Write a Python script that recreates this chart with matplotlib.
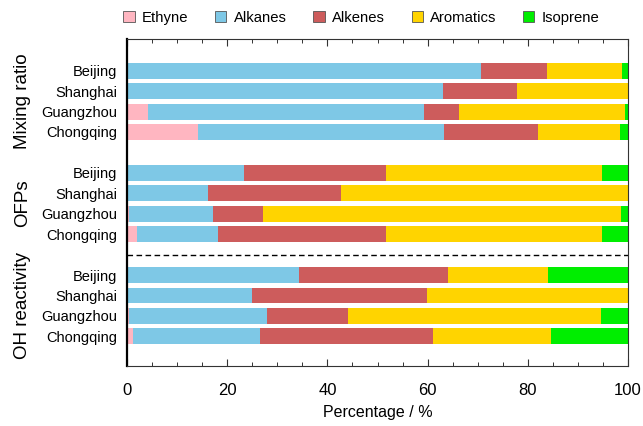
import matplotlib
matplotlib.use("Agg")
import matplotlib.pyplot as plt
from matplotlib.ticker import MultipleLocator
import numpy as np

plt.rcParams['font.family'] = ['Liberation Sans', 'DejaVu Sans']

cities = ["Beijing", "Shanghai", "Guangzhou", "Chongqing"]
groups = ["Mixing ratio", "OFPs", "OH reactivity"]
species = ["Ethyne", "Alkanes", "Alkenes", "Aromatics", "Isoprene"]
colors = ["#FFB6C1", "#7EC8E6", "#CD5C5C", "#FFD400", "#00EE00"]

# rows: Mixing ratio (4 cities), OFPs (4 cities), OH reactivity (4 cities)
ethyne    = [0.0, 0.0, 4.2, 14.2,   0.0, 0.0, 0.3, 1.9,    0.0, 0.0, 0.3, 1.2]
alkanes   = [70.6, 63.0, 55.1, 49.0, 23.3, 16.2, 16.8, 16.2, 34.4, 24.9, 27.7, 25.3]
alkenes   = [13.2, 14.8, 7.0, 18.9,  28.4, 26.6, 10.1, 33.6, 29.6, 35.0, 16.2, 34.5]
aromatics = [15.1, 22.2, 33.2, 16.4, 43.2, 57.2, 71.5, 43.1, 20.1, 40.1, 50.4, 23.7]
isoprene  = [1.1, 0.0, 0.5, 1.5,    5.1, 0.0, 1.3, 5.2,    15.9, 0.0, 5.4, 15.3]

series = [ethyne, alkanes, alkenes, aromatics, isoprene]

fig = plt.figure(figsize=(6.43, 4.26), dpi=100)
ax = fig.add_axes([127/643, 1-366/426, (628-127)/643, (366-39)/426])

ypos = []
for g in range(len(groups)):
    for c in range(len(cities)):
        ypos.append(g * (len(cities) + 1) + c)
ypos = np.array(ypos)

left = np.zeros(len(ypos))
for name, vals, col in zip(species, series, colors):
    vals = np.array(vals)
    ax.barh(ypos, vals, left=left, height=0.78, color=col, label=name, edgecolor='none')
    left += vals

ax.set_xlim(0, 100)
ax.set_ylim(14.45, -1.55)
ax.axhline(9, color='black', lw=1.0, ls=(0, (4, 2.5)))

ax.set_yticks(ypos)
ax.set_yticklabels(cities * len(groups), fontsize=10.5)
ax.tick_params(axis='y', length=0, pad=7)

ax.xaxis.set_major_locator(MultipleLocator(20))
ax.xaxis.set_minor_locator(MultipleLocator(5))
ax.tick_params(axis='x', which='both', direction='in', top=True, bottom=True,
               labelsize=12, pad=12, color='#333333')
ax.tick_params(axis='x', which='major', length=5, width=0.8)
ax.tick_params(axis='x', which='minor', length=3, width=0.7)
ax.set_xlabel("Percentage / %", fontsize=11.5, labelpad=5)

for s in ['top', 'bottom', 'right']:
    ax.spines[s].set_linewidth(0.8)
    ax.spines[s].set_color('#333333')
ax.spines['left'].set_linewidth(1.6)
ax.spines['left'].set_color('black')

# group labels
fig_h = 426.0
for g, gname in enumerate(groups):
    yc = np.mean(ypos[g*4:(g+1)*4])
    disp = ax.transData.transform((0, yc))
    yf = fig.transFigure.inverted().transform(disp)[1]
    fig.text(23/643, yf, gname, rotation=90, ha='center', va='center', fontsize=13.5)

handles, labels = ax.get_legend_handles_labels()
leg = fig.legend(handles, labels, loc='center', ncol=5, frameon=False,
                 bbox_to_anchor=(361.5/643, 1-18/426), fontsize=10.7,
                 handlelength=0.75, handleheight=0.75, handletextpad=0.5,
                 columnspacing=1.8, borderaxespad=0)
for h in leg.legend_handles:
    h.set_edgecolor('#555555')
    h.set_linewidth(0.6)

fig.savefig("out.png", dpi=100)
